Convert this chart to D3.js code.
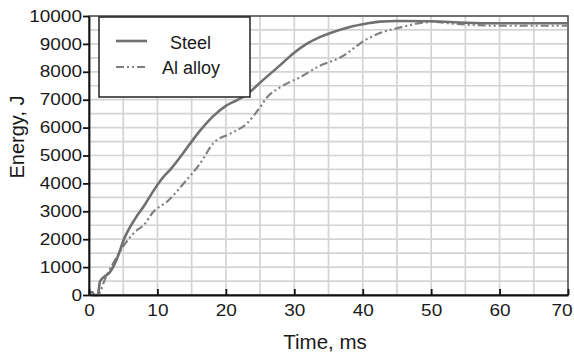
<!DOCTYPE html>
<html>
<head>
<meta charset="utf-8">
<script src="https://cdn.jsdelivr.net/npm/d3@7"></script>
<style>
  body { margin: 0; background: #fff; }
  svg { display: block; font-family: "Liberation Sans", Arial, sans-serif; }
</style>
</head>
<body>
<svg width="574" height="356"></svg>
<script>
var margin = {left: 89, right: 6, top: 16, bottom: 61};
var width = 574, height = 356;

// series: time in ms, energy in J
var steelTime   = [0, 0.5, 0.7, 1.3, 1.6, 2.2, 3.0, 4.0, 5.2, 6.7, 8.2, 9.2, 10.6, 12.0, 13.2, 14.7, 16.2, 18.2, 20.0, 21.6, 23.0, 25.5, 27.9, 29.8, 31.8, 33.8, 35.7, 38.0, 40.6, 42.5, 45, 50, 55, 60, 65, 70];
var steelEnergy = [100, 100, 0, 0, 480, 650, 800, 1250, 2050, 2720, 3250, 3650, 4150, 4530, 4900, 5400, 5880, 6420, 6780, 6980, 7180, 7720, 8230, 8650, 9000, 9250, 9430, 9600, 9730, 9800, 9820, 9810, 9760, 9740, 9740, 9740];

var alTime   = [0, 1.3, 1.7, 2.1, 3.8, 5.3, 6.7, 8.2, 9.2, 11.6, 13.8, 16.2, 18.2, 20.6, 23.0, 25.0, 26.0, 27.9, 30.8, 33.7, 36.7, 40.6, 42.0, 45.5, 48.8, 50.3, 53, 56, 60, 65, 70];
var alEnergy = [0, 0, 150, 420, 1250, 1850, 2260, 2560, 2920, 3390, 3990, 4700, 5450, 5780, 6130, 6730, 7080, 7440, 7800, 8210, 8510, 9170, 9340, 9590, 9760, 9790, 9730, 9680, 9650, 9650, 9650];

var seriesNames = ["Steel", "Al alloy"];
var xTicks = [0, 10, 20, 30, 40, 50, 60, 70];
var yTicks = [0, 1000, 2000, 3000, 4000, 5000, 6000, 7000, 8000, 9000, 10000];

var svg = d3.select("svg");

var x = d3.scaleLinear().domain([0, 70]).range([margin.left, width - margin.right]);
var y = d3.scaleLinear().domain([0, 10000]).range([height - margin.bottom, margin.top]);

// grid, every 5 ms and every 500 J
var grid = svg.append("g");
grid.selectAll(".vg").data(d3.range(5, 70, 5)).enter().append("line")
  .attr("x1", function(d) { return x(d); }).attr("x2", function(d) { return x(d); })
  .attr("y1", y(0)).attr("y2", y(10000))
  .attr("stroke", "#d4d4d4").attr("stroke-width", 1.7);
grid.selectAll(".hg").data(d3.range(500, 10000, 500)).enter().append("line")
  .attr("y1", function(d) { return y(d); }).attr("y2", function(d) { return y(d); })
  .attr("x1", x(0)).attr("x2", x(70))
  .attr("stroke", "#d4d4d4").attr("stroke-width", 1.7);

// frame top / right
svg.append("rect")
  .attr("x", x(0)).attr("y", y(10000))
  .attr("width", x(70) - x(0)).attr("height", y(0) - y(10000))
  .attr("fill", "none").attr("stroke", "#444").attr("stroke-width", 1.5);

var line = d3.line()
  .x(function(d) { return x(d[0]); })
  .y(function(d) { return y(d[1]); })
  .curve(d3.curveMonotoneX);

var steel = d3.zip(steelTime, steelEnergy);
var al = d3.zip(alTime, alEnergy);

svg.append("path").datum(al)
  .attr("d", line).attr("fill", "none")
  .attr("stroke", "#808080").attr("stroke-width", 2.2)
  .attr("stroke-dasharray", "8,3,2,3,2,3");

svg.append("path").datum(steel)
  .attr("d", line).attr("fill", "none")
  .attr("stroke", "#707070").attr("stroke-width", 2.6);

// axes
var xAxis = d3.axisBottom(x).tickValues(xTicks).tickSizeInner(-6).tickSizeOuter(0).tickFormat(d3.format("d"));
var yAxis = d3.axisLeft(y).tickValues(yTicks).tickSizeInner(6).tickSizeOuter(0).tickFormat(d3.format("d"));

var gx = svg.append("g").attr("transform", "translate(0," + y(0) + ")").call(xAxis);
var gy = svg.append("g").attr("transform", "translate(" + x(0) + ",0)").call(yAxis);

[gx, gy].forEach(function(g) {
  g.select(".domain").attr("stroke", "#111").attr("stroke-width", 1.8);
  g.selectAll(".tick line").attr("stroke", "#111").attr("stroke-width", 1.8);
  g.selectAll("text").attr("fill", "#1a1a1a")
    .attr("font-family", "Liberation Sans, Arial, sans-serif").attr("font-size", 19);
});
gx.selectAll("text").attr("y", null).attr("dy", "0.72em")
  .attr("transform", "translate(0,9) scale(1,0.9)");
gx.selectAll("text").filter(function(d) { return d === 70; })
  .attr("text-anchor", "end").attr("transform", "translate(4,9) scale(1,0.9)");
gy.selectAll("text").attr("x", null).attr("dy", "0.36em")
  .attr("transform", "translate(-7,-1) scale(1,0.9)");

svg.append("text")
  .attr("x", 325).attr("y", 349)
  .attr("text-anchor", "middle").attr("font-size", 20.5).attr("fill", "#1a1a1a")
  .text("Time, ms");

svg.append("text")
  .attr("transform", "translate(24,137) rotate(-90)")
  .attr("text-anchor", "middle").attr("font-size", 20).attr("fill", "#1a1a1a")
  .text("Energy, J");

// legend
var lg = svg.append("g");
lg.append("rect").attr("x", 99).attr("y", 17).attr("width", 151).attr("height", 80)
  .attr("fill", "#fff").attr("stroke", "#222").attr("stroke-width", 1.5);
lg.append("line").attr("x1", 116).attr("x2", 147).attr("y1", 41).attr("y2", 41)
  .attr("stroke", "#707070").attr("stroke-width", 2.6);
lg.append("line").attr("x1", 116).attr("x2", 147).attr("y1", 67).attr("y2", 67)
  .attr("stroke", "#808080").attr("stroke-width", 2.2).attr("stroke-dasharray", "8,3,2,3,2,3");
lg.append("text").attr("x", 170).attr("y", 49).attr("font-size", 18).attr("fill", "#1a1a1a").text(seriesNames[0]);
lg.append("text").attr("x", 162).attr("y", 74).attr("font-size", 18).attr("fill", "#1a1a1a").text(seriesNames[1]);
</script>
</body>
</html>
